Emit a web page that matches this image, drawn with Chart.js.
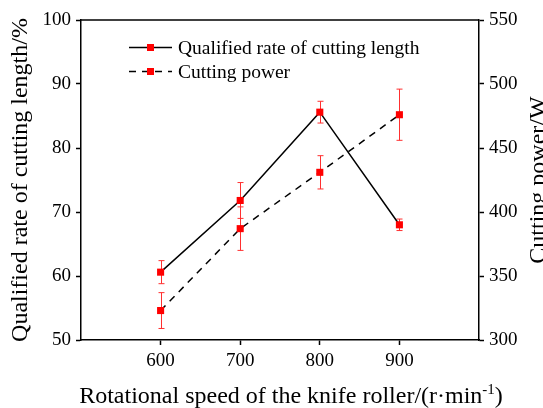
<!DOCTYPE html>
<html><head><meta charset="utf-8">
<script src="https://cdn.jsdelivr.net/npm/chart.js@4/dist/chart.umd.min.js"></script>
<style>html,body{margin:0;padding:0;background:#fff}</style>
</head><body>
<canvas id="c" width="543" height="408"></canvas>
<script>
const speeds = [600, 700, 800, 900];
const qualifiedRate = [60.6, 71.8, 85.6, 68.0];
const qualifiedErr = [1.8, 2.8, 1.7, 0.9];
const cuttingPower = [323, 387, 431, 476];
const powerErr = [14, 17, 13, 20];
const xTicks = [600, 700, 800, 900];
const leftTicks = [50, 60, 70, 80, 90, 100];
const rightTicks = [300, 350, 400, 450, 500, 550];
const seriesNames = ['Qualified rate of cutting length', 'Cutting power'];
const xTitle = 'Rotational speed of the knife roller/(r·min';
const xTitleSup = '-1';
const xTitleEnd = ')';
const yTitle = 'Qualified rate of cutting length/%';
const y2Title = 'Cutting power/W';

const FONT = "'Liberation Serif', 'Times New Roman', serif";
const DASH = [7, 6];
const errs = [qualifiedErr, powerErr];

const errorBars = {
  id: 'errorBars',
  beforeDatasetsDraw(chart) {
    const ctx = chart.ctx;
    ctx.save();
    ctx.strokeStyle = '#ff3030';
    ctx.lineWidth = 1;
    chart.data.datasets.forEach((ds, di) => {
      const ys = chart.scales[ds.yAxisID];
      const xs = chart.scales.x;
      ds.data.forEach((p, i) => {
        const x = Math.round(xs.getPixelForValue(p.x)) + 0.5;
        const t = ys.getPixelForValue(p.y + errs[di][i]);
        const b = ys.getPixelForValue(p.y - errs[di][i]);
        ctx.beginPath();
        ctx.moveTo(x, t); ctx.lineTo(x, b);
        ctx.moveTo(x - 3, t); ctx.lineTo(x + 3, t);
        ctx.moveTo(x - 3, b); ctx.lineTo(x + 3, b);
        ctx.stroke();
      });
    });
    ctx.restore();
  }
};

const extras = {
  id: 'extras',
  afterDraw(chart) {
    const ctx = chart.ctx;
    const a = chart.chartArea;
    ctx.save();
    // top frame line
    ctx.strokeStyle = '#000';
    ctx.lineWidth = 1.5;
    ctx.beginPath();
    ctx.moveTo(a.left, a.top); ctx.lineTo(a.right, a.top);
    ctx.stroke();

    // legend
    const lx0 = 129, lx1 = 172, rows = [47.5, 71.5];
    ctx.lineWidth = 1.5;
    rows.forEach((y, i) => {
      ctx.strokeStyle = '#000';
      ctx.setLineDash(i === 1 ? DASH : []);
      ctx.beginPath();
      ctx.moveTo(lx0, y); ctx.lineTo(lx1, y);
      ctx.stroke();
      ctx.setLineDash([]);
      ctx.fillStyle = '#ff0000';
      ctx.fillRect(147, y - 3.5, 7, 7);
      ctx.fillStyle = '#000';
      ctx.font = '19.5px ' + FONT;
      ctx.textAlign = 'left';
      ctx.textBaseline = 'middle';
      ctx.fillText(seriesNames[i], 178, y + 1);
    });

    // bottom title with superscript
    ctx.fillStyle = '#000';
    ctx.textBaseline = 'alphabetic';
    ctx.textAlign = 'left';
    const big = '24px ' + FONT, small = '15px ' + FONT;
    ctx.font = big; const w1 = ctx.measureText(xTitle).width;
    ctx.font = small; const w2 = ctx.measureText(xTitleSup).width;
    ctx.font = big; const w3 = ctx.measureText(xTitleEnd).width;
    const total = w1 + w2 + w3;
    let sx = 291 - total / 2;
    const by = 403;
    ctx.font = big; ctx.fillText(xTitle, sx, by);
    ctx.font = small; ctx.fillText(xTitleSup, sx + w1, by - 9);
    ctx.font = big; ctx.fillText(xTitleEnd, sx + w1 + w2, by);

    // right title (reads bottom to top)
    ctx.translate(545, (a.top + a.bottom) / 2);
    ctx.rotate(-Math.PI / 2);
    ctx.textAlign = 'center';
    ctx.font = big;
    ctx.fillText(y2Title, 0, 0);
    ctx.restore();
  }
};

const axisCommon = (min, max, list) => ({
  min, max,
  afterBuildTicks: s => { s.ticks = list.map(v => ({ value: v })); },
  ticks: { color: '#000', font: { family: FONT, size: 19 }, padding: 5 },
  grid: { display: true, drawOnChartArea: false, drawTicks: true, tickLength: 5, tickColor: '#000', tickWidth: 1.5 },
  border: { display: true, color: '#000', width: 1.5 }
});

new Chart(document.getElementById('c'), {
  type: 'line',
  data: {
    datasets: [
      {
        label: seriesNames[0],
        data: speeds.map((s, i) => ({ x: s, y: qualifiedRate[i] })),
        yAxisID: 'y',
        borderColor: '#000', borderWidth: 1.5, tension: 0,
        pointStyle: 'rect', pointRadius: 5, pointBorderWidth: 0,
        pointBackgroundColor: '#ff0000', pointBorderColor: '#ff0000'
      },
      {
        label: seriesNames[1],
        data: speeds.map((s, i) => ({ x: s, y: cuttingPower[i] })),
        yAxisID: 'y2',
        borderColor: '#000', borderWidth: 1.5, borderDash: DASH, tension: 0,
        pointStyle: 'rect', pointRadius: 5, pointBorderWidth: 0,
        pointBackgroundColor: '#ff0000', pointBorderColor: '#ff0000'
      }
    ]
  },
  options: {
    responsive: false,
    animation: false,
    devicePixelRatio: 1,
    layout: { padding: { top: 20, left: 0, right: 0, bottom: 0 } },
    plugins: { legend: { display: false }, tooltip: { enabled: false } },
    scales: {
      x: Object.assign(axisCommon(500, 1000, xTicks), {
        type: 'linear', position: 'bottom',
        afterFit: s => { s.height = 68; }
      }),
      y: Object.assign(axisCommon(50, 100, leftTicks), {
        type: 'linear', position: 'left',
        title: { display: true, text: yTitle, color: '#000', font: { family: FONT, size: 24 }, padding: { top: 6, bottom: 0 } },
        afterFit: s => { s.width = 81; }
      }),
      y2: Object.assign(axisCommon(300, 550, rightTicks), {
        type: 'linear', position: 'right',
        afterFit: s => { s.width = 64; }
      })
    }
  },
  plugins: [errorBars, extras]
});
</script>
</body></html>
